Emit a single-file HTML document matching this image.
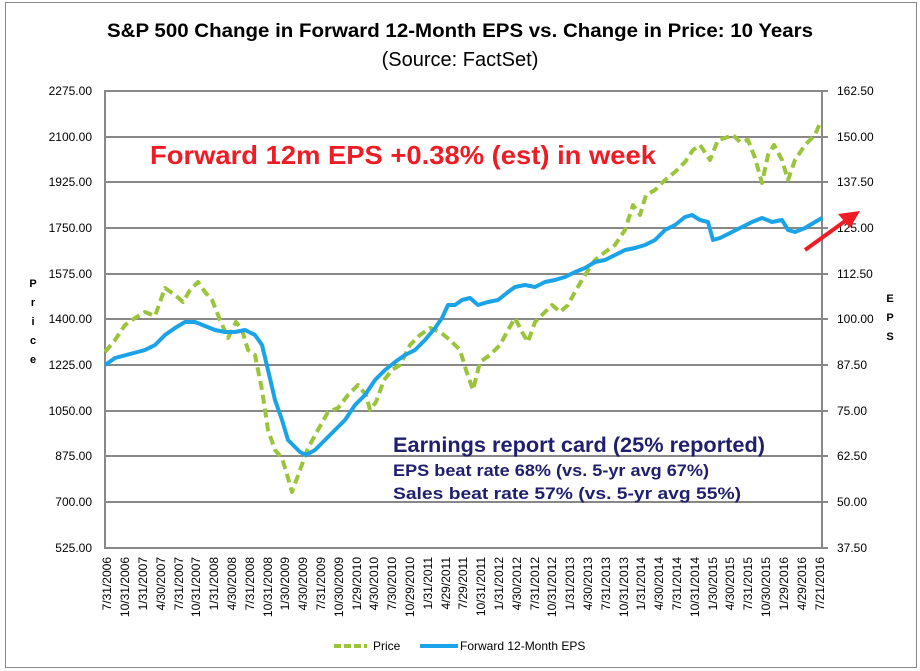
<!DOCTYPE html>
<html><head><meta charset="utf-8"><style>
body{margin:0;background:#fff;}
svg{display:block;font-family:"Liberation Sans",sans-serif;}
</style></head><body>
<svg width="920" height="671" xmlns="http://www.w3.org/2000/svg">
<rect x="5.5" y="2.5" width="911" height="665" fill="#fff" stroke="#888" stroke-width="1"/>
<text x="460" y="37" text-anchor="middle" font-size="19" font-weight="bold" fill="#000" textLength="706" lengthAdjust="spacingAndGlyphs">S&amp;P 500 Change in Forward 12-Month EPS vs. Change in Price: 10 Years</text>
<text x="460" y="66" text-anchor="middle" font-size="20" fill="#000">(Source: FactSet)</text>
<g stroke="#888" stroke-width="2">
<line x1="105" y1="91" x2="828" y2="91"/><line x1="105" y1="137" x2="828" y2="137"/>
<line x1="105" y1="182" x2="828" y2="182"/><line x1="105" y1="228" x2="828" y2="228"/>
<line x1="105" y1="274" x2="828" y2="274"/><line x1="105" y1="319" x2="828" y2="319"/>
<line x1="105" y1="365" x2="828" y2="365"/><line x1="105" y1="411" x2="828" y2="411"/>
<line x1="105" y1="456" x2="828" y2="456"/><line x1="105" y1="502" x2="828" y2="502"/>
<line x1="105" y1="548" x2="828" y2="548"/>
<line x1="105" y1="90" x2="105" y2="549"/><line x1="822" y1="90" x2="822" y2="549"/>
</g>
<g font-size="12" fill="#000" text-anchor="end">
<text x="92" y="95">2275.00</text><text x="92" y="141">2100.00</text><text x="92" y="186">1925.00</text>
<text x="92" y="232">1750.00</text><text x="92" y="278">1575.00</text><text x="92" y="323">1400.00</text>
<text x="92" y="369">1225.00</text><text x="92" y="415">1050.00</text><text x="92" y="460">875.00</text>
<text x="92" y="506">700.00</text><text x="92" y="552">525.00</text>
</g>
<g font-size="12" fill="#000">
<text x="837" y="95">162.50</text><text x="837" y="141">150.00</text><text x="837" y="186">137.50</text>
<text x="837" y="232">125.00</text><text x="837" y="278">112.50</text><text x="837" y="323">100.00</text>
<text x="837" y="369">87.50</text><text x="837" y="415">75.00</text><text x="837" y="460">62.50</text>
<text x="837" y="506">50.00</text><text x="837" y="552">37.50</text>
</g>
<g font-size="11" font-weight="bold" fill="#000" text-anchor="middle">
<text x="33" y="287">P</text><text x="33" y="306">r</text><text x="33" y="325">i</text><text x="33" y="344">c</text><text x="33" y="363">e</text>
<text x="890" y="302">E</text><text x="890" y="321">P</text><text x="890" y="340">S</text>
</g>
<g font-size="12" fill="#000" text-anchor="end">
<text transform="translate(111,557) rotate(-90)">7/31/2006</text>
<text transform="translate(129,557) rotate(-90)">10/31/2006</text>
<text transform="translate(147,557) rotate(-90)">1/31/2007</text>
<text transform="translate(165,557) rotate(-90)">4/30/2007</text>
<text transform="translate(183,557) rotate(-90)">7/31/2007</text>
<text transform="translate(200,557) rotate(-90)">10/31/2007</text>
<text transform="translate(218,557) rotate(-90)">1/31/2008</text>
<text transform="translate(236,557) rotate(-90)">4/30/2008</text>
<text transform="translate(254,557) rotate(-90)">7/31/2008</text>
<text transform="translate(272,557) rotate(-90)">10/31/2008</text>
<text transform="translate(289,557) rotate(-90)">1/30/2009</text>
<text transform="translate(307,557) rotate(-90)">4/30/2009</text>
<text transform="translate(325,557) rotate(-90)">7/31/2009</text>
<text transform="translate(343,557) rotate(-90)">10/30/2009</text>
<text transform="translate(361,557) rotate(-90)">1/29/2010</text>
<text transform="translate(378,557) rotate(-90)">4/30/2010</text>
<text transform="translate(396,557) rotate(-90)">7/30/2010</text>
<text transform="translate(414,557) rotate(-90)">10/29/2010</text>
<text transform="translate(432,557) rotate(-90)">1/31/2011</text>
<text transform="translate(450,557) rotate(-90)">4/29/2011</text>
<text transform="translate(467,557) rotate(-90)">7/29/2011</text>
<text transform="translate(485,557) rotate(-90)">10/31/2011</text>
<text transform="translate(503,557) rotate(-90)">1/31/2012</text>
<text transform="translate(521,557) rotate(-90)">4/30/2012</text>
<text transform="translate(539,557) rotate(-90)">7/31/2012</text>
<text transform="translate(556,557) rotate(-90)">10/31/2012</text>
<text transform="translate(574,557) rotate(-90)">1/31/2013</text>
<text transform="translate(592,557) rotate(-90)">4/30/2013</text>
<text transform="translate(610,557) rotate(-90)">7/31/2013</text>
<text transform="translate(628,557) rotate(-90)">10/31/2013</text>
<text transform="translate(645,557) rotate(-90)">1/31/2014</text>
<text transform="translate(663,557) rotate(-90)">4/30/2014</text>
<text transform="translate(681,557) rotate(-90)">7/31/2014</text>
<text transform="translate(699,557) rotate(-90)">10/31/2014</text>
<text transform="translate(717,557) rotate(-90)">1/30/2015</text>
<text transform="translate(734,557) rotate(-90)">4/30/2015</text>
<text transform="translate(752,557) rotate(-90)">7/31/2015</text>
<text transform="translate(770,557) rotate(-90)">10/30/2015</text>
<text transform="translate(788,557) rotate(-90)">1/29/2016</text>
<text transform="translate(806,557) rotate(-90)">4/29/2016</text>
<text transform="translate(824,557) rotate(-90)">7/21/2016</text>
</g>
<polyline fill="none" stroke="#9bc43b" stroke-width="4" stroke-dasharray="9,5" stroke-linejoin="round" points="105,352 115,340 125,325 135,318 145,312 155,316 165,288 175,295 183,302 190,290 198,282 205,292 212,300 220,320 228,338 236,322 242,330 248,350 255,355 262,390 268,430 275,450 282,458 288,478 292,492 300,470 308,448 318,430 328,412 338,408 348,395 358,385 366,395 370,410 376,402 384,380 392,370 400,365 410,345 420,335 430,328 440,332 450,340 460,350 466,370 473,390 480,362 490,355 500,345 508,330 515,318 522,332 528,342 535,322 545,312 552,305 560,312 568,305 576,290 585,275 595,260 605,252 615,245 625,230 633,205 640,215 646,195 655,190 665,180 675,172 685,162 693,150 700,145 710,160 718,140 725,138 733,135 740,142 748,140 755,158 762,183 768,155 774,145 782,160 788,180 795,160 805,145 815,135 820,123"/>
<polyline fill="none" stroke="#1aa3e8" stroke-width="4" stroke-linejoin="round" points="105,365 115,358 130,354 145,350 155,345 165,335 175,328 185,322 195,322 205,326 215,330 225,332 235,332 245,330 255,335 262,345 268,370 275,400 282,420 288,440 300,452 306,455 315,450 325,440 335,430 345,420 355,405 365,395 375,380 385,370 395,362 405,355 415,350 425,340 435,328 442,318 448,305 455,305 462,300 470,298 478,305 488,302 498,300 508,292 515,287 525,285 535,287 545,282 555,280 565,277 575,272 585,268 595,262 605,260 615,255 625,250 635,248 645,245 655,240 665,230 675,225 685,217 692,215 700,220 708,222 713,240 720,238 730,233 740,228 752,222 762,218 772,222 782,220 788,230 795,232 805,228 815,222 822,218"/>
<text x="150" y="164" font-size="26" font-weight="bold" fill="#ee1c25" textLength="506" lengthAdjust="spacingAndGlyphs">Forward 12m EPS +0.38% (est) in week</text>
<text x="393" y="452" font-size="21" font-weight="bold" fill="#1f1f6e" textLength="372" lengthAdjust="spacingAndGlyphs">Earnings report card (25% reported)</text>
<text x="393" y="476" font-size="17" font-weight="bold" fill="#1f1f6e" textLength="316" lengthAdjust="spacingAndGlyphs">EPS beat rate 68% (vs. 5-yr avg 67%)</text>
<text x="393" y="499" font-size="17" font-weight="bold" fill="#1f1f6e" textLength="348" lengthAdjust="spacingAndGlyphs">Sales beat rate 57% (vs. 5-yr avg 55%)</text>
<line x1="805" y1="250" x2="848" y2="219" stroke="#ee1c25" stroke-width="4"/>
<polygon points="860,211 838,214 850,228" fill="#ee1c25"/>
<line x1="334" y1="646" x2="367" y2="646" stroke="#9bc43b" stroke-width="4" stroke-dasharray="7,3"/>
<text x="373" y="650" font-size="12" fill="#000">Price</text>
<line x1="420" y1="646" x2="458" y2="646" stroke="#1aa3e8" stroke-width="4"/>
<text x="460" y="650" font-size="12" fill="#000">Forward 12-Month EPS</text>
</svg>
</body></html>
